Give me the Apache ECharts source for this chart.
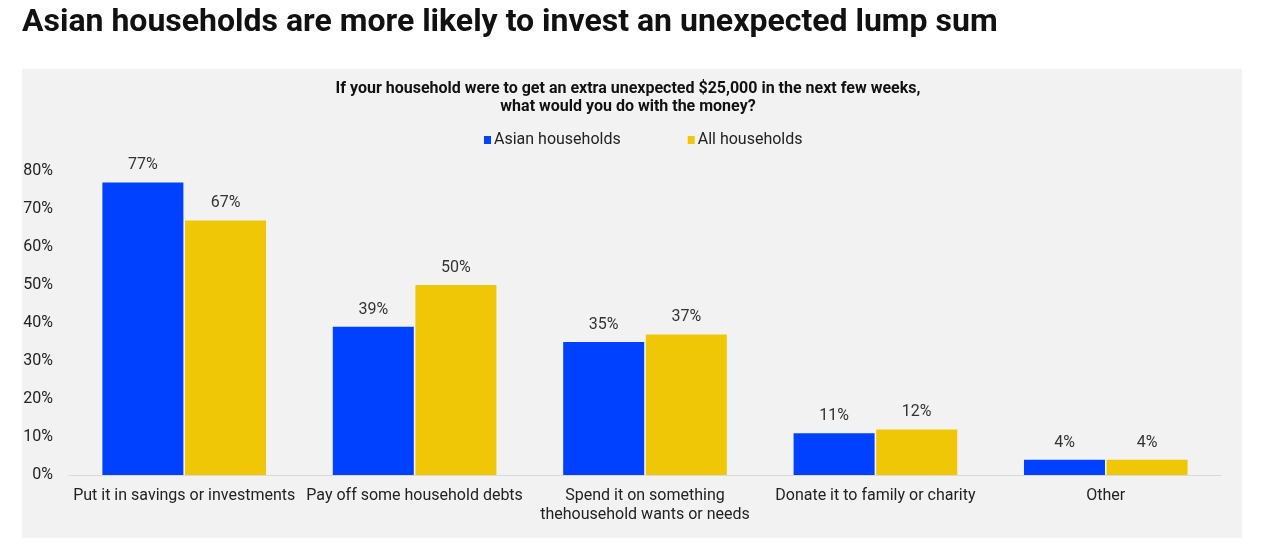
<!DOCTYPE html>
<html>
<head>
<meta charset="utf-8">
<script src="https://cdn.jsdelivr.net/npm/echarts@6/dist/echarts.min.js"></script>
<style>
  html, body { margin: 0; padding: 0; background: #fff; }
  #chart { width: 1262px; height: 554px; }
</style>
</head>
<body>
<div id="chart"></div>
<script>
// categories and values
const categories = [
  'Put it in savings or investments',
  'Pay off some household debts',
  'Spend it on something\nthehousehold wants or needs',
  'Donate it to family or charity',
  'Other'
]
const asianValues = [77, 39, 35, 11, 4]
const allValues = [67, 50, 37, 12, 4]
const seriesNames = ['Asian households', 'All households']

const chart = echarts.init(document.getElementById('chart'))

const labelStyle = {
  show: true,
  position: 'top',
  distance: 9,
  color: '#333',
  fontSize: 16,
  fontFamily: 'Roboto',
  formatter: '{c}%'
}

chart.setOption({
  animation: false,
  backgroundColor: '#fff',
  textStyle: { fontFamily: 'Roboto' },
  graphic: [
    {
      // grey panel behind the chart
      type: 'rect',
      z: -10,
      shape: { x: 22, y: 69, width: 1220, height: 469 },
      style: { fill: '#f2f2f2' }
    }
  ],
  title: [
    {
      text: 'Asian households are more likely to invest an unexpected lump sum',
      left: 17,
      top: 2,
      textStyle: { fontSize: 32, fontWeight: 'bold', color: '#111', fontFamily: 'Roboto' }
    },
    {
      text: 'If your household were to get an extra unexpected $25,000 in the next few weeks,\nwhat would you do with the money?',
      left: 623,
      top: 75,
      textAlign: 'center',
      textStyle: { fontSize: 16, fontWeight: 'bold', color: '#111', lineHeight: 18, fontFamily: 'Roboto' }
    }
  ],
  legend: {
    data: seriesNames,
    left: 479,
    top: 127,
    itemWidth: 7,
    itemHeight: 8,
    itemGap: 67,
    icon: 'rect',
    textStyle: { fontSize: 16, color: '#222', padding: [0, 0, 0, -2] }
  },
  grid: {
    left: 69,
    right: 41,
    top: 171,
    bottom: 79,
    containLabel: false
  },
  xAxis: {
    type: 'category',
    data: categories,
    axisLine: { lineStyle: { color: '#d9d9d9' } },
    axisTick: { show: false },
    axisLabel: {
      color: '#222',
      fontSize: 16,
      margin: 11,
      lineHeight: 19,
      interval: 0
    }
  },
  yAxis: {
    type: 'value',
    min: 0,
    max: 80,
    interval: 10,
    splitLine: { show: false },
    axisLine: { show: false },
    axisTick: { show: false },
    axisLabel: {
      color: '#222',
      fontSize: 16,
      margin: 16,
      formatter: '{value}%'
    }
  },
  series: [
    {
      name: seriesNames[0],
      type: 'bar',
      data: asianValues,
      barWidth: 81,
      barGap: '2%',
      itemStyle: { color: '#0040ff' },
      label: labelStyle
    },
    {
      name: seriesNames[1],
      type: 'bar',
      data: allValues,
      barWidth: 81,
      barGap: '2%',
      itemStyle: { color: '#efc707' },
      label: labelStyle
    }
  ]
})
</script>
</body>
</html>
